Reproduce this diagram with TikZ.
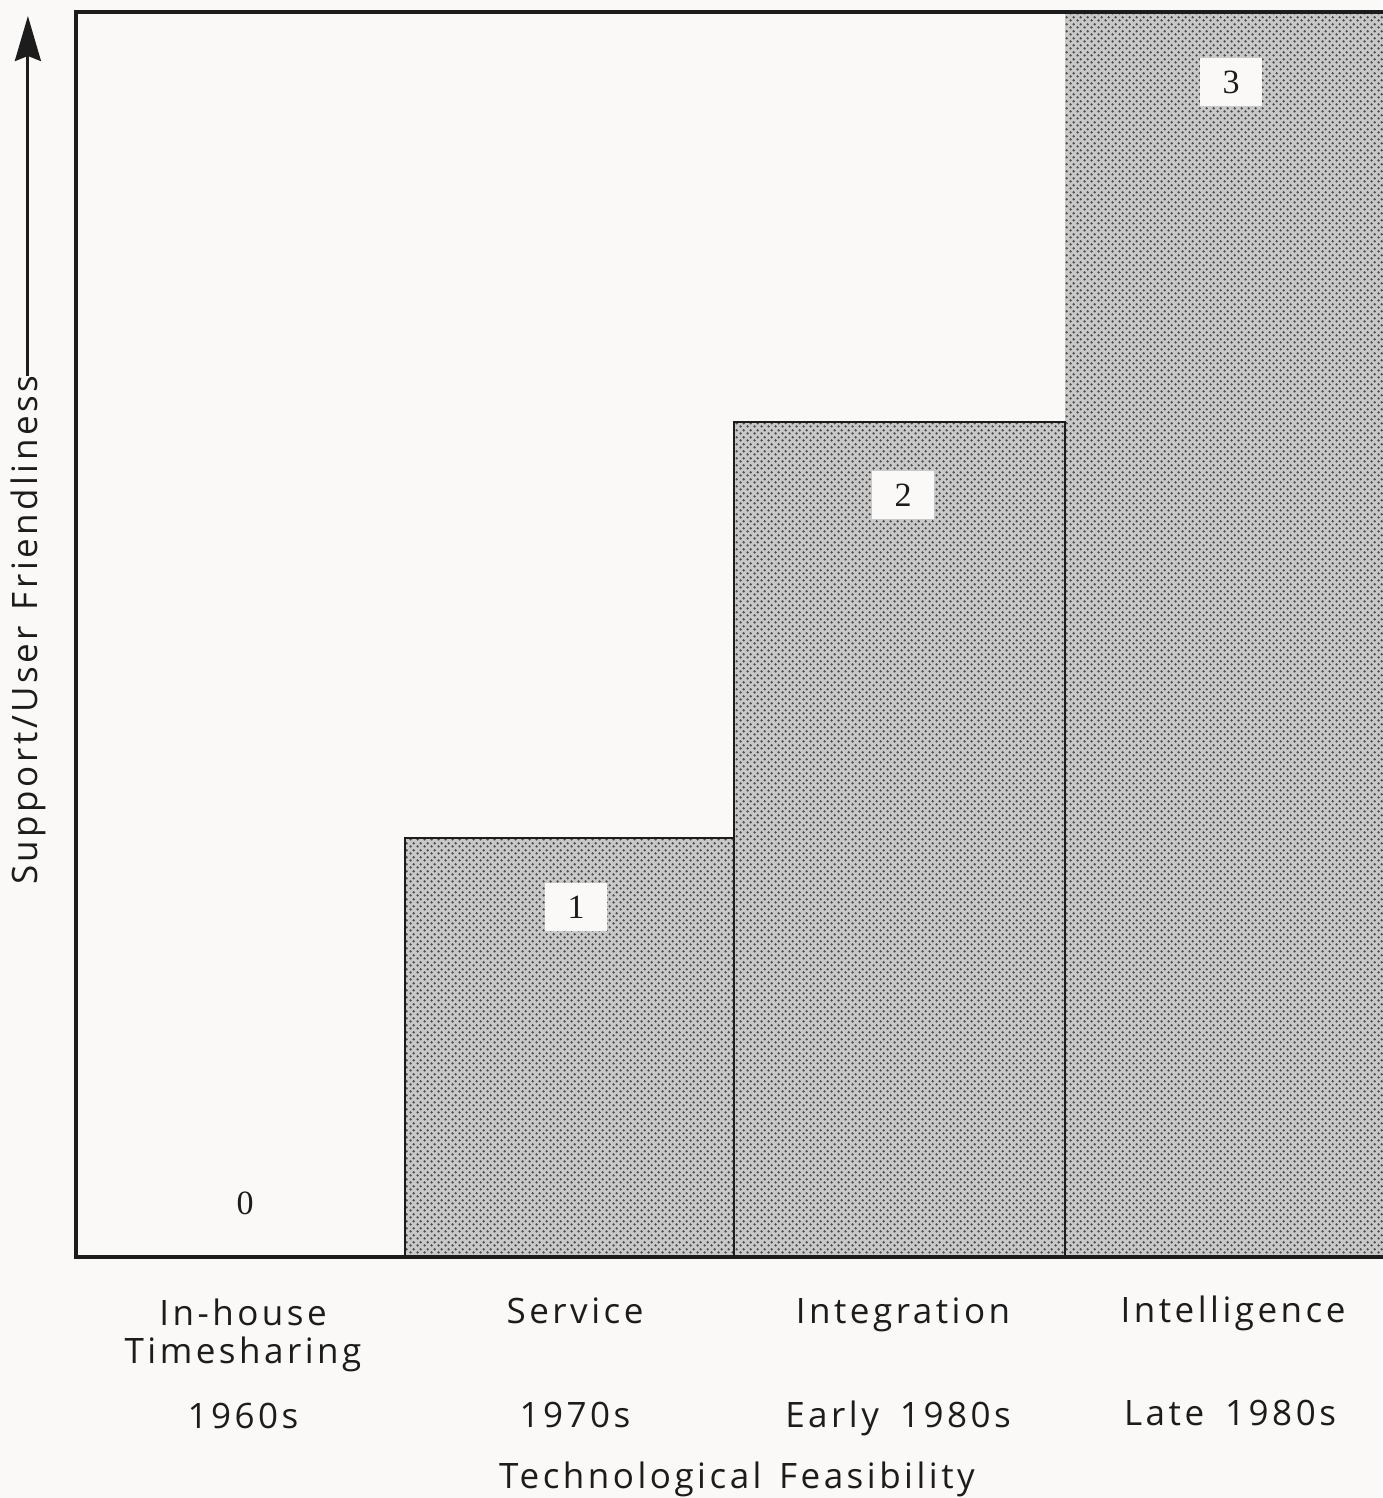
\documentclass[tikz,border=0pt]{standalone}
\usepackage{fontspec}
\usetikzlibrary{patterns.meta,arrows.meta,calc}
\newfontfamily\labfont[LetterSpace=10]{Open Sans}
\newfontfamily\numfont{Liberation Serif}
\definecolor{paper}{RGB}{251,249,248}
\definecolor{ink}{RGB}{28,28,28}
\definecolor{barbase}{RGB}{200,200,200}
\definecolor{bardot}{RGB}{75,75,75}
\tikzdeclarepattern{name=stip, type=uncolored,
  bottom left={(0pt,0pt)}, top right={(6.6pt,6.6pt)}, tile size={(6.6pt,6.6pt)},
  code={\fill (1.65pt,1.65pt) circle (1.35pt); \fill (4.95pt,4.95pt) circle (1.35pt);}}
\tikzset{
  lab/.style={font=\labfont\fontsize{35}{38}\selectfont, text=ink, inner sep=0pt, anchor=base, align=center},
  num/.style={font=\numfont\fontsize{34}{34}\selectfont, text=ink, inner sep=0pt},
  numbox/.style={num, fill=paper, minimum width=62pt, minimum height=48pt},
  barpat/.style={pattern={stip}, pattern color=bardot},
  frame/.style={draw=ink, line width=4pt},
  arr/.style={draw=ink, line width=3pt, -{Stealth[length=45pt,width=26pt,inset=5pt]}}
}
\begin{document}
\begin{tikzpicture}[x=1pt,y=-1pt]
\useasboundingbox[fill=paper] (0,0) rectangle (1382,1498);
% bars
\fill[barbase] (405,838) rectangle (734,1257);
\fill[barpat] (405,838) rectangle (734,1257);
\fill[barbase] (734,422) rectangle (1065,1257);
\fill[barpat] (734,422) rectangle (1065,1257);
\fill[barbase] (1065,12) rectangle (1390,1257);
\fill[barpat] (1065,12) rectangle (1390,1257);
\draw[draw=ink, line width=2.5pt] (405,1257) -- (405,838) -- (734,838) -- (734,1257);
\draw[draw=ink, line width=2.5pt] (734,838) -- (734,422) -- (1065,422) -- (1065,1257);
% frame
\draw[frame] (1390,12) -- (76,12) -- (76,1257) -- (1390,1257);
% number labels
\node[num] (n0) at (245,1203) {0};
\node[numbox] (n1) at (576,907) {1};
\node[numbox] (n2) at (903,495) {2};
\node[numbox] (n3) at (1231,82) {3};
% bottom labels
\node[lab] (c0) at (243,1363) {In-house\\Timesharing};
\node[lab] (c1) at (575,1323) {Service};
\node[lab] (c2) at (903,1323) {Integration};
\node[lab] (c3) at (1233,1322) {Intelligence};
\node[lab] (d0) at (243,1428) {1960s};
\node[lab] (d1) at (575,1427) {1970s};
\node[lab] (d2) at (898,1427) {Early\hspace{0.6em}1980s};
\node[lab] (d3) at (1230,1425) {Late\hspace{0.6em}1980s};
\node[lab] (xt) at (737,1488) {Technological\hspace{0.5em}Feasibility};
% y axis label and arrow
\node[lab, rotate=90, anchor=base west] (yl) at (37,885) {Support/User\hspace{0.45em}Friendliness};
\coordinate (tip) at (29,16);
\draw[arr] (yl.east) -- (yl.east |- tip);
\end{tikzpicture}
\end{document}
